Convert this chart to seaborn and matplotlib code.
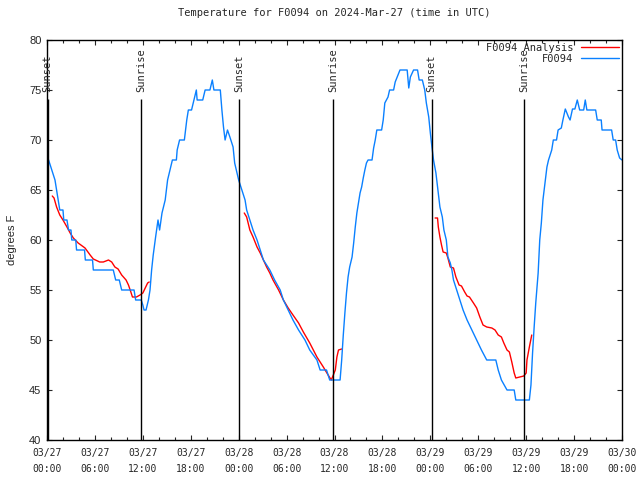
import matplotlib
matplotlib.use("Agg")
import matplotlib.pyplot as plt
import pandas as pd
import seaborn as sns

# hours since 2024-03-27 00:00 UTC
obs_hours = [0.0, 0.2, 0.6, 1.0, 1.2, 1.4, 1.6, 2.0, 2.1, 2.5, 2.7, 3.0, 3.1, 3.6, 3.7, 4.7, 4.8, 5.7,
             5.8, 8.3, 8.6, 9.05, 9.35, 10.9, 11.1, 11.8, 12.0, 12.15, 12.4, 12.7, 12.9, 13.1, 13.3,
             13.6, 13.9, 14.1, 14.4, 14.8, 15.1, 15.4, 15.7, 16.2, 16.3, 16.6, 17.2, 17.5, 17.7, 18.1,
             18.4, 18.7, 18.8, 19.5, 19.8, 20.4, 20.7, 20.9, 21.7, 21.9, 22.1, 22.3, 22.6, 22.9, 23.3,
             23.5, 24.0, 24.4, 24.8, 25.0, 25.4, 25.8, 26.3, 26.7, 27.1, 27.9, 28.5, 29.2, 29.6, 30.2,
             30.8, 31.5, 32.3, 32.9, 33.8, 34.2, 35.0, 35.4, 36.7, 36.9, 37.1, 37.3, 37.5, 37.7, 37.9,
             38.2, 38.4, 38.6, 38.8, 39.0, 39.2, 39.4, 39.6, 39.8, 40.0, 40.2, 40.7, 40.9, 41.1, 41.3,
             41.9, 42.1, 42.3, 42.7, 42.9, 43.4, 43.6, 43.8, 44.2, 45.1, 45.3, 45.5, 45.9, 46.4, 46.6,
             47.0, 47.3, 47.5, 47.8, 48.0, 48.2, 48.4, 48.7, 49.0, 49.2, 49.5, 49.7, 50.0, 50.2, 50.5,
             50.7, 50.9, 51.3, 51.7, 52.1, 52.6, 53.2, 53.8, 54.4, 55.06, 56.2, 56.5, 56.9, 57.6, 58.5,
             58.7, 60.4, 60.6, 60.8, 61.0, 61.2, 61.5, 61.7, 61.9, 62.1, 62.4, 62.6, 62.8, 63.2, 63.4,
             63.8, 64.0, 64.4, 64.6, 64.9, 65.3, 65.5, 65.8, 66.1, 66.4, 66.7, 67.2, 67.4, 67.6, 68.7,
             68.9, 69.4, 69.5, 70.7, 70.9, 71.2, 71.4, 71.7, 72.0]
obs_temps = [68, 68, 67, 66, 65, 64, 63, 63, 62, 62, 61, 61, 60, 60, 59, 59, 58, 58,
             57, 57, 56, 56, 55, 55, 54, 54, 53.5, 53, 53, 54, 55, 57, 58.5,
             60.3, 62, 61, 62.7, 64, 66, 67, 68, 68, 69, 70, 70, 72, 73, 73,
             74, 75, 74, 74, 75, 75, 76, 75, 75, 73, 71.3, 70, 71, 70.3, 69.3,
             67.7, 66, 65, 64, 63, 62, 61, 60, 59, 58, 57, 56, 55, 54, 53,
             52, 51, 50, 49, 48, 47, 47, 46, 46, 48, 50.5, 52.7, 54.7, 56.3, 57.3,
             58.3, 59.7, 61.3, 62.7, 63.7, 64.7, 65.3, 66.2, 67, 67.7, 68, 68, 69.2, 70, 71,
             71, 72, 73.7, 74.3, 75, 75, 75.8, 76.2, 77, 77, 75.2, 76.3, 77, 77, 76,
             76, 75, 73.7, 72.3, 70.7, 69.3, 68, 66.7, 64.7, 63.3, 62.3, 61, 60, 58.3, 57.7,
             57, 56, 55, 54, 53, 52, 51, 50, 49, 48, 48, 47, 46, 45, 45,
             44, 44, 45.5, 48.7, 51.3, 53.7, 56.7, 60, 61.7, 64, 66, 67.3, 68, 69, 70,
             70, 71, 71.2, 72, 73.1, 72.3, 72, 73.1, 73.1, 74, 73, 73, 74, 73, 73,
             72, 72, 71, 71, 70, 70, 69, 68.2, 68]

# analysis runs (three separate night segments)
ana1_hours = [0.66, 0.88, 1.2, 1.6, 2.0, 2.5, 2.9, 3.3, 3.9, 4.76, 5.4, 5.8, 6.6, 7.05, 7.7, 8.1,
              8.5, 8.9, 9.35, 9.9, 10.2, 10.5, 10.7, 11.2, 11.65, 12.0, 12.3, 12.6, 12.8]
ana1_temps = [64.4, 64.2, 63.3, 62.5, 62, 61.3, 60.7, 60.2, 59.7, 59.2, 58.5, 58.1, 57.8, 57.8, 58, 57.8,
              57.3, 57.1, 56.5, 56, 55.5, 54.8, 54.3, 54.3, 54.5, 54.7, 55.2, 55.7, 55.8]
ana2_hours = [24.7, 25.0, 25.4, 25.8, 26.3, 26.7, 27.1, 27.5, 27.9, 28.3, 29.0, 29.6, 30.2, 30.8,
              31.5, 32.1, 32.9, 33.8, 34.6, 35.2, 35.6, 36.1, 36.3, 36.5, 36.9]
ana2_temps = [62.7, 62.3, 61, 60.3, 59.3, 58.7, 58, 57.3, 56.7, 56, 55, 54, 53.2, 52.5,
              51.7, 50.8, 49.7, 48.3, 47.3, 46.5, 46, 47, 48.3, 49, 49.1]
ana3_hours = [48.6, 48.9, 49.0, 49.2, 49.4, 49.6, 50.0, 50.2, 50.5, 50.9, 51.2, 51.6, 51.9, 52.3,
              52.6, 52.9, 53.4, 53.8, 54.2, 54.6, 55.06, 55.7, 56.1, 56.5, 56.9, 57.2, 57.6, 57.9,
              58.2, 58.5, 58.7, 59.2, 59.7, 60.0, 60.1, 60.4, 60.7]
ana3_temps = [62.2, 62.2, 61.3, 60.3, 59.5, 58.8, 58.7, 58.2, 57.3, 57.2, 56.3, 55.5, 55.4, 54.8,
              54.4, 54.3, 53.7, 53.2, 52.3, 51.5, 51.3, 51.2, 51, 50.5, 50.3, 49.7, 49, 48.8,
              47.8, 46.7, 46.2, 46.3, 46.4, 46.7, 48, 49.3, 50.5]

sun_hours = [0.08, 11.8, 24.1, 35.85, 48.15, 59.77]
sun_labels = ["Sunset", "Sunrise", "Sunset", "Sunrise", "Sunset", "Sunrise"]

tick_hours = list(range(0, 73, 6))
tick_labels = ["03/27\n00:00", "03/27\n06:00", "03/27\n12:00", "03/27\n18:00",
               "03/28\n00:00", "03/28\n06:00", "03/28\n12:00", "03/28\n18:00",
               "03/29\n00:00", "03/29\n06:00", "03/29\n12:00", "03/29\n18:00",
               "03/30\n00:00"]

sns.set_style("ticks")
plt.rcParams['font.family'] = ['DejaVu Sans Mono']

obs = pd.DataFrame({'hour': obs_hours, 'temp': obs_temps})
segments = [(ana1_hours, ana1_temps), (ana2_hours, ana2_temps), (ana3_hours, ana3_temps)]

fig = plt.figure(figsize=(6.4, 4.8), dpi=100)
ax = fig.add_axes([47 / 640, 40 / 480, 575 / 640, 400 / 480])

for i, (h, t) in enumerate(segments):
    seg = pd.DataFrame({'hour': h, 'temp': t})
    sns.lineplot(data=seg, x='hour', y='temp', ax=ax, color='#ff0000', lw=1.0,
                 sort=False, estimator=None, label='F0094 Analysis' if i == 0 else None)
sns.lineplot(data=obs, x='hour', y='temp', ax=ax, color='#0a80ff', lw=1.0,
             sort=False, estimator=None, label='F0094')

# sunrise / sunset markers
ax.vlines(sun_hours, 40, 74.1, color='black', lw=1.0)
for h, lab in zip(sun_hours, sun_labels):
    ax.text(h, 74.8, lab, rotation=90, ha='center', va='bottom', fontsize=7.5)

ax.set_xlim(0, 72)
ax.set_ylim(40, 80)
ax.set_xticks(tick_hours)
ax.set_xticklabels(tick_labels, fontsize=7, linespacing=1.7)
ax.set_xticks(range(0, 73, 2), minor=True)
ax.set_yticks(range(40, 81, 5))
ax.tick_params(axis='y', labelsize=8, pad=4)
ax.tick_params(axis='x', pad=6)
ax.tick_params(which='both', direction='in', top=True, right=True, width=0.8)
ax.tick_params(which='major', length=3.5)
ax.tick_params(which='minor', length=2)
for lab in ax.get_yticklabels():
    lab.set_fontfamily('Liberation Sans')
ax.set_xlabel('')
ax.set_ylabel('degrees F', fontsize=8, family='Liberation Sans', labelpad=9)
for sp in ax.spines.values():
    sp.set_linewidth(1.0)
    sp.set_color('black')

ax.set_title('Temperature for F0094 on 2024-Mar-27 (time in UTC)', fontsize=7.5, pad=17)

leg = ax.legend(loc='upper right', frameon=False, markerfirst=False, fontsize=7.5,
                handlelength=3.6, handletextpad=0.8, labelspacing=0.05,
                borderaxespad=0.2, borderpad=0.1)

fig.savefig('out.png', dpi=100)
